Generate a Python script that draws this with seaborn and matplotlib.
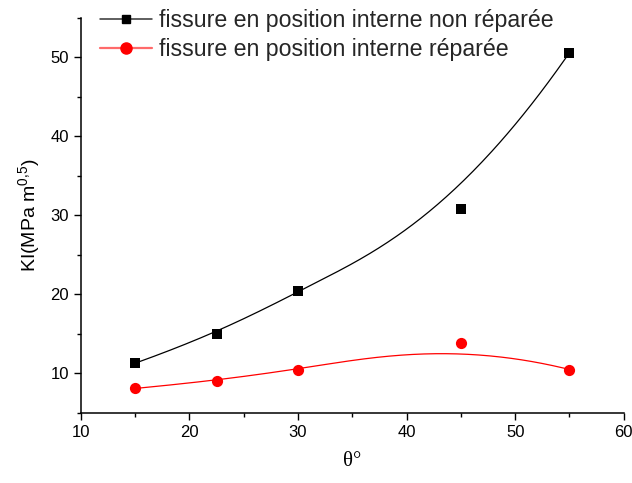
import numpy as np
import pandas as pd
import matplotlib
matplotlib.use("Agg")
import matplotlib.pyplot as plt
import seaborn as sns
from matplotlib.ticker import MultipleLocator
from matplotlib.lines import Line2D

theta = [15, 22.5, 30, 45, 55]
ki_non_repare = [11.3, 15.0, 20.4, 30.8, 50.6]
ki_repare = [8.1, 9.1, 10.5, 13.9, 10.5]
label_non = "fissure en position interne non réparée"
label_rep = "fissure en position interne réparée"

sns.set_theme(style="ticks")
plt.rcParams['font.family'] = ['Liberation Sans', 'DejaVu Sans']
plt.rcParams['mathtext.fontset'] = 'custom'
plt.rcParams['mathtext.rm'] = 'Liberation Sans'
plt.rcParams['mathtext.it'] = 'Liberation Sans:italic'


def bspline(xp, yp, n=300, k=3):
    """Clamped cubic B-spline using the data points as control points."""
    P = np.column_stack([xp, yp]).astype(float)
    m = len(P)
    inner = np.linspace(0, 1, m - k + 1)[1:-1]
    t = np.concatenate([np.zeros(k + 1), inner, np.ones(k + 1)])
    u = np.linspace(0, 1, n)
    u[-1] -= 1e-9

    def N(i, p, u):
        if p == 0:
            return np.where((t[i] <= u) & (u < t[i + 1]), 1.0, 0.0)
        a = np.zeros_like(u)
        b = np.zeros_like(u)
        if t[i + p] != t[i]:
            a = (u - t[i]) / (t[i + p] - t[i]) * N(i, p - 1, u)
        if t[i + p + 1] != t[i + 1]:
            b = (t[i + p + 1] - u) / (t[i + p + 1] - t[i + 1]) * N(i + 1, p - 1, u)
        return a + b

    B = np.column_stack([N(i, k, u) for i in range(m)])
    C = B @ P
    return C[:, 0], C[:, 1]


fig = plt.figure(figsize=(6.32, 4.83), dpi=100)
ax = fig.add_axes([0.128, 0.145, 0.859, 0.818])

df = pd.DataFrame({"theta": theta, "non": ki_non_repare, "rep": ki_repare})

bx1, by1 = bspline(theta, ki_non_repare)
bx2, by2 = bspline(theta, ki_repare)

ax.plot(bx1, by1, color="black", lw=0.9)
ax.plot(bx2, by2, color="red", lw=0.9)
sns.scatterplot(data=df, x="theta", y="non", ax=ax, marker="s", color="black", s=55, edgecolor="black", linewidth=0)
sns.scatterplot(data=df, x="theta", y="rep", ax=ax, marker="o", color="red", s=65, edgecolor="red", linewidth=0)

h1 = Line2D([], [], color="#333333", lw=1.1, marker="s", markersize=6, markerfacecolor="black", markeredgecolor="black")
h2 = Line2D([], [], color="#ff6a6a", lw=1.6, marker="o", markersize=8, markerfacecolor="red", markeredgecolor="red")
leg = ax.legend([h1, h2], [label_non, label_rep], loc="upper left", bbox_to_anchor=(0.019, 1.045),
                frameon=False, fontsize=16.7, handlelength=2.24, handletextpad=0.3, labelspacing=0.25,
                borderaxespad=0)

ax.set_xlim(10, 60)
ax.set_ylim(5, 55)
ax.xaxis.set_major_locator(MultipleLocator(10))
ax.xaxis.set_minor_locator(MultipleLocator(5))
ax.set_yticks([10, 20, 30, 40, 50])
ax.yaxis.set_minor_locator(MultipleLocator(5))
ax.tick_params(which="major", length=5, width=1, labelsize=12, direction="out", colors="black")
ax.tick_params(which="minor", length=3, width=1, direction="out", colors="black")
for s in ["top", "right"]:
    ax.spines[s].set_visible(False)
for s in ["left", "bottom"]:
    ax.spines[s].set_linewidth(1.1)
    ax.spines[s].set_color("black")

ax.set_xlabel("θ°", family=["Liberation Serif", "DejaVu Serif"], fontsize=15, labelpad=9, color="black")
ax.set_ylabel(r"KI(MPa m$^{\mathregular{0{,}5}}$)", fontsize=14, labelpad=6, color="black")

fig.savefig("out.png", dpi=100)
